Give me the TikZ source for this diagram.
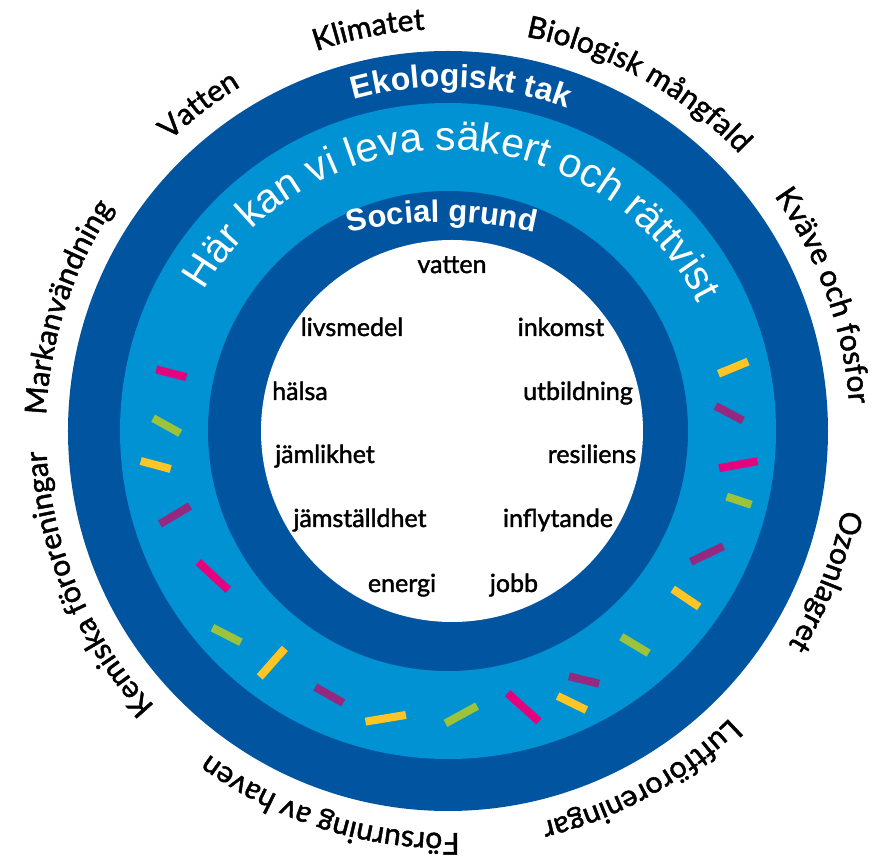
\documentclass[tikz,border=0pt]{standalone}
\usepackage{fontspec}
\usetikzlibrary{decorations.text}
\newfontfamily\lblfont[FakeBold=1.6]{Lato}
\newfontfamily\arialfont{Liberation Sans}
\definecolor{ringdark}{HTML}{0054A0}
\definecolor{ringlight}{HTML}{0092D2}
\definecolor{dpink}{HTML}{E5007D}
\definecolor{dgreen}{HTML}{9DC33B}
\definecolor{dyellow}{HTML}{FFC425}
\definecolor{dpurple}{HTML}{96287F}
\newcommand\ringlabel[2]{%
  \path[decorate,decoration={text along path,text align=center,
    text={|\lblfont\fontsize{30}{36}\selectfont|#2}}]
    (#1+45:402) arc[start angle=#1+45,end angle=#1-45,radius=402];}
\newcommand\dashmark[5]{%
  \draw[dashbar,#1] (#2,#3) ++(#4:#5/2) -- ++(#4+180:#5);}
\begin{document}
\begin{tikzpicture}[x=1pt,y=1pt,
  dashbar/.style={line width=8pt,line cap=butt},
  word/.style={font=\lblfont\fontsize{25}{30}\selectfont,anchor=base,inner sep=0pt}]
\useasboundingbox (-448,-435) rectangle (438,431);
% rings
\fill[ringdark] (0,0) circle (380);
\fill[ringlight] (0,0) circle (328);
\fill[ringdark] (0,0) circle (240);
\fill[white] (4,0) circle (191);
% dashes
\dashmark{dpink}{-276.7}{57.7}{-14}{31}
\dashmark{dgreen}{-281.3}{5.3}{-29}{31}
\dashmark{dyellow}{-292.3}{-34}{-15}{31}
\dashmark{dpurple}{-273}{-84}{31}{35}
\dashmark{dpink}{-234.7}{-145}{-43}{41}
\dashmark{dgreen}{-221.3}{-204}{-27}{32}
\dashmark{dyellow}{-175.7}{-231.7}{48.6}{38}
\dashmark{dpurple}{-118.7}{-264}{-29.5}{32}
\dashmark{dyellow}{-62.3}{-287.3}{9.4}{41}
\dashmark{dgreen}{13.3}{-283.7}{28.7}{36}
\dashmark{dpink}{75.3}{-276.3}{-41.8}{42}
\dashmark{dyellow}{124}{-272}{-26}{32}
\dashmark{dpurple}{136}{-249}{-14}{31}
\dashmark{dyellow}{285.3}{63.3}{22.4}{32}
\dashmark{dpurple}{281.3}{17.7}{-28}{31}
\dashmark{dpink}{290.3}{-33.7}{10.3}{39}
\dashmark{dgreen}{291}{-69.7}{-18.4}{26}
\dashmark{dpurple}{259}{-123}{25.6}{36}
\dashmark{dyellow}{238}{-167}{-34}{32}
\dashmark{dgreen}{187}{-214}{-31}{32}
% ring texts
\path[decorate,decoration={text along path,text align=center,text color=white,
  text={|\arialfont\bfseries\fontsize{32}{38}\selectfont|Ekologiskt tak}}]
  (127.8:344) arc[start angle=127.8,end angle=47.8,radius=344];
\path[decorate,decoration={text along path,text align=center,text color=white,
  text={|\arialfont\fontsize{41}{49}\selectfont|Här kan vi leva säkert och rättvist}}]
  (168.6:281) arc[start angle=168.6,end angle=8.6,radius=281];
\path[decorate,decoration={text along path,text align=center,text color=white,
  text={|\arialfont\bfseries\fontsize{31}{37}\selectfont|Social grund}}]
  ([shift={(-6,-189)}]110:398) arc[start angle=110,end angle=70,radius=398];
% outer labels
\ringlabel{101.2}{Klimatet}
\ringlabel{127.4}{Vatten}
\ringlabel{61.2}{Biologisk mångfald}
\ringlabel{162}{Markanvändning}
\ringlabel{19.8}{Kväve och fosfor}
\ringlabel{-21.7}{Ozonlagret}
\ringlabel{-61}{Luftföroreningar}
\ringlabel{-107.4}{Försurning av haven}
\ringlabel{-157}{Kemiska föroreningar}
% inner words
\node[word] (w1) at (4,158) {vatten};
\node[word] (w2) at (-96,95) {livsmedel};
\node[word] (w3) at (113,95) {inkomst};
\node[word] (w4) at (-148,31) {hälsa};
\node[word] (w5) at (130,31) {utbildning};
\node[word] (w6) at (-123,-32) {jämlikhet};
\node[word] (w7) at (144,-32) {resiliens};
\node[word] (w8) at (-88,-96) {jämställdhet};
\node[word] (w9) at (110,-96) {inflytande};
\node[word] (w10) at (-46,-161) {energi};
\node[word] (w11) at (66,-161) {jobb};
\end{tikzpicture}
\end{document}
